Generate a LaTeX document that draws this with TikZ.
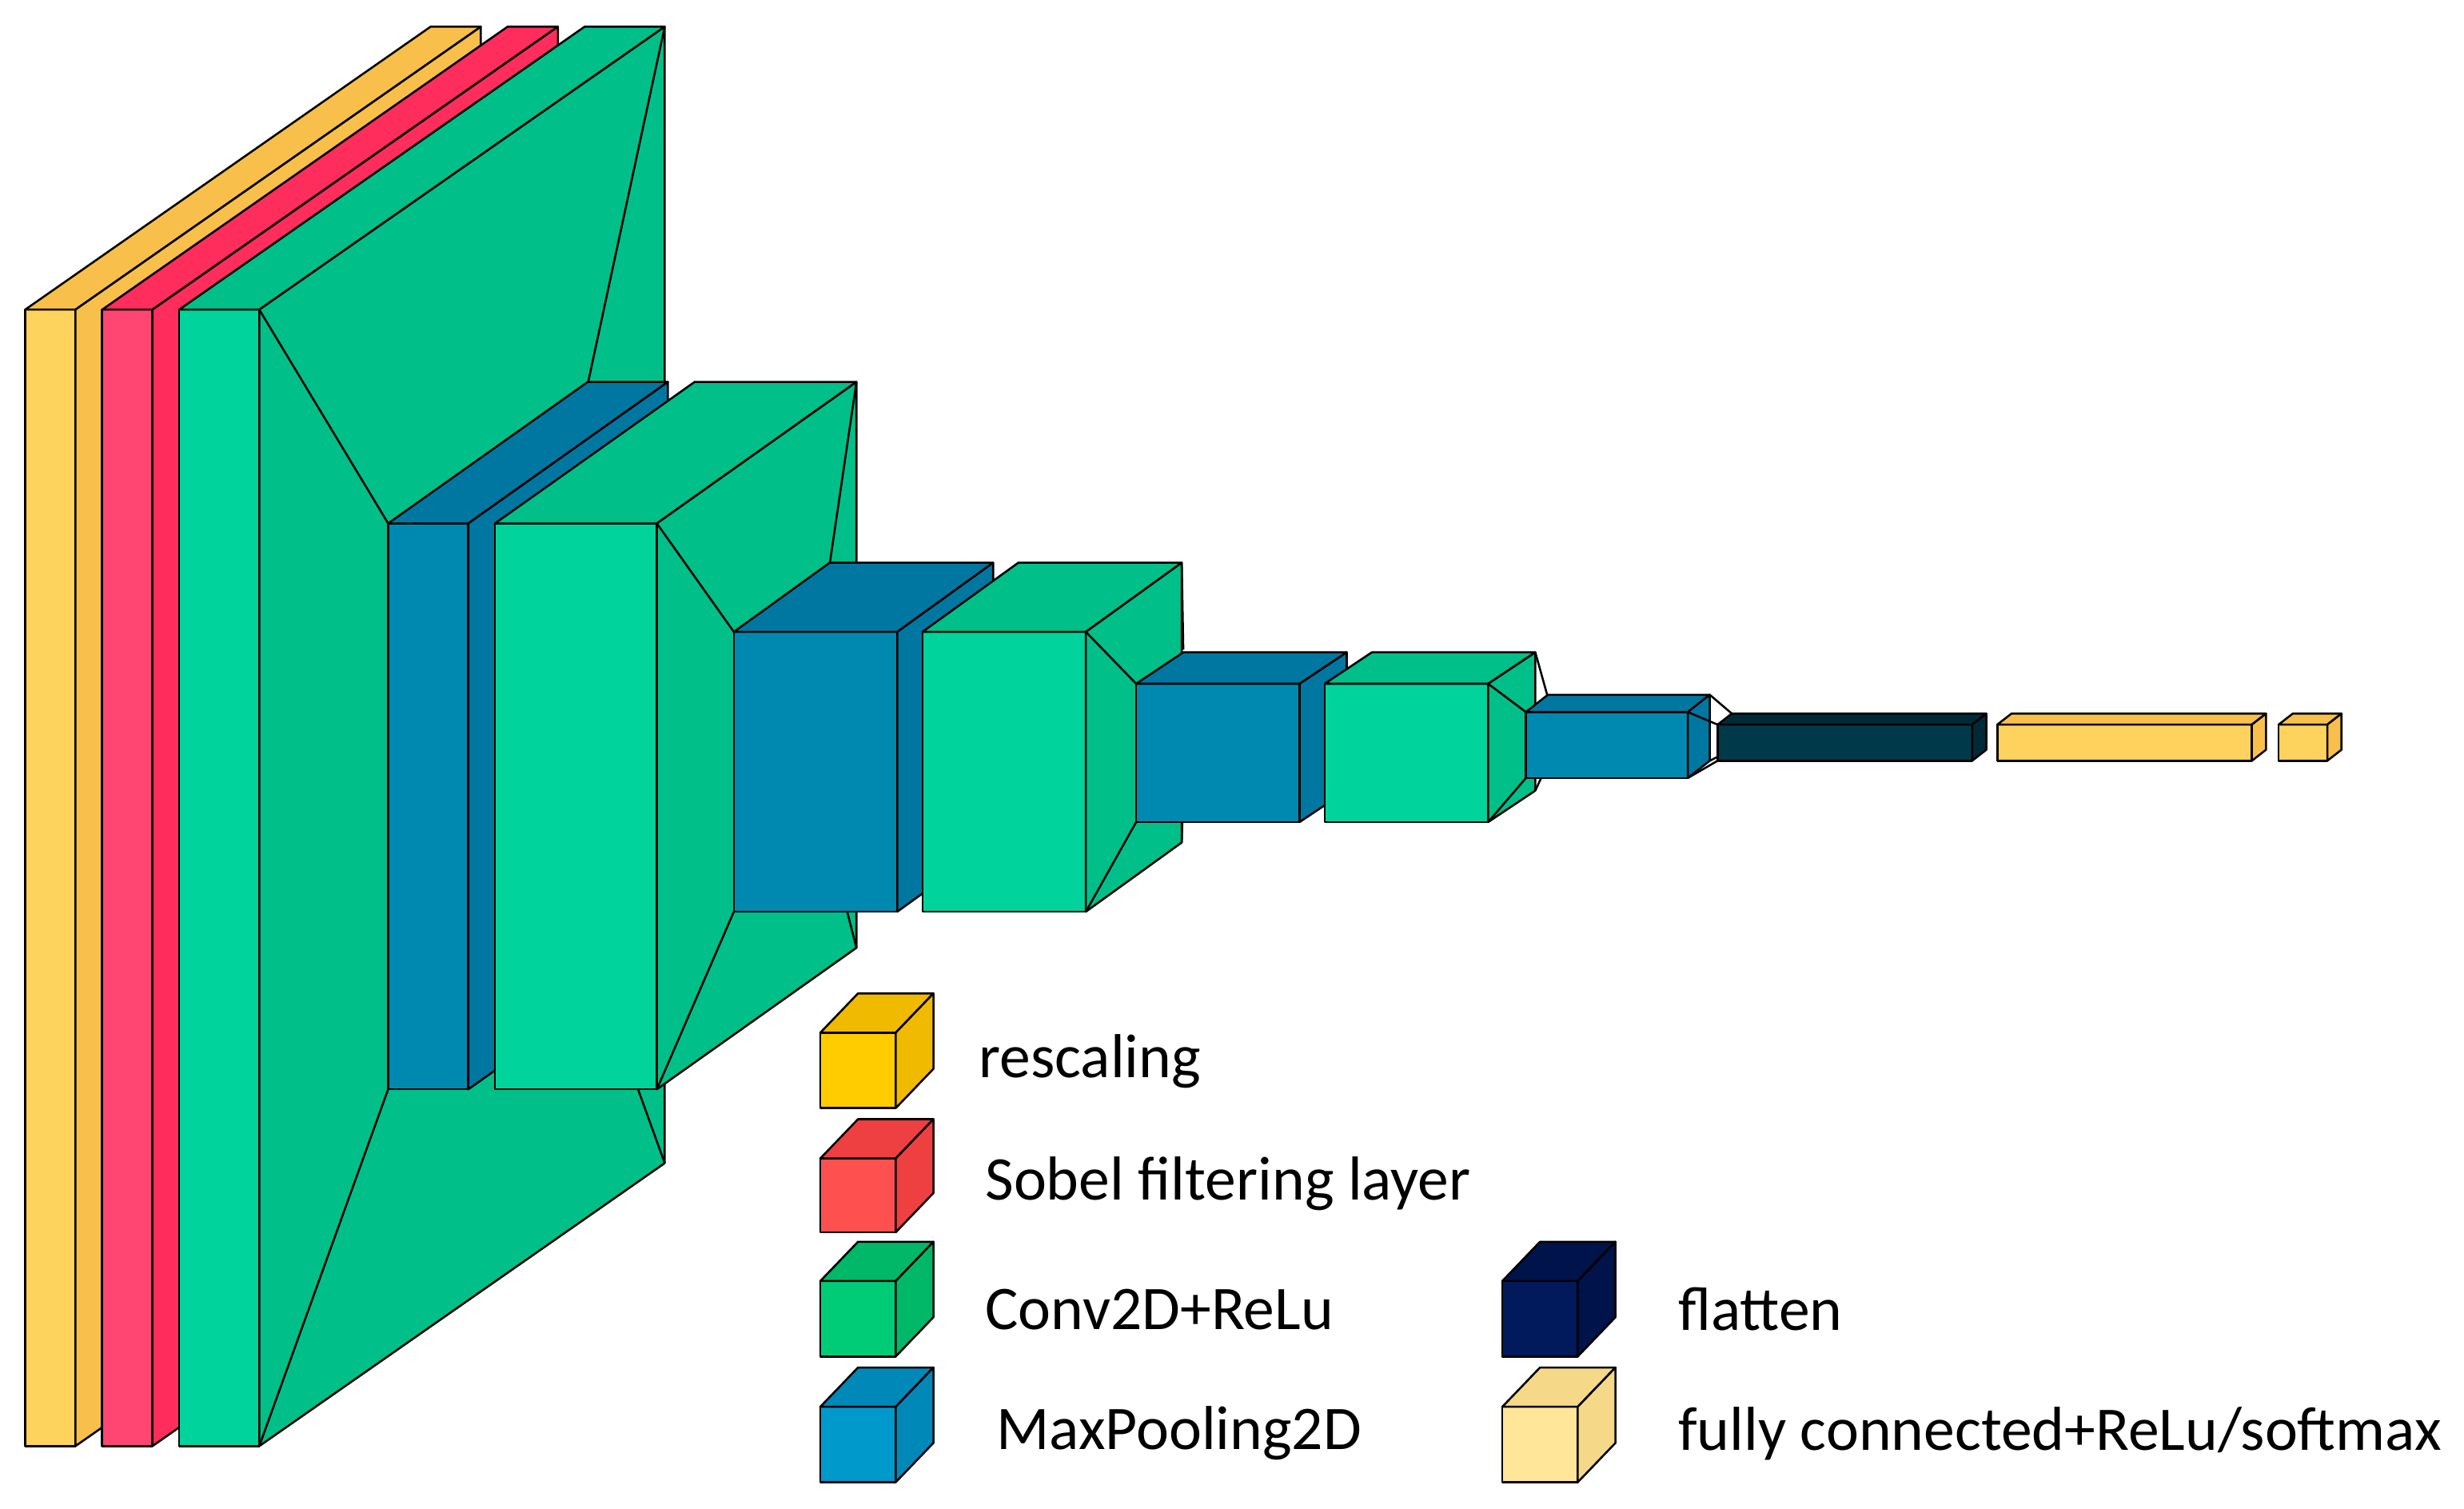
\documentclass[tikz,border=0pt]{standalone}
\usepackage{fontspec}
\setmainfont{Carlito}
\begin{document}
\begin{tikzpicture}[x=1pt,y=-1pt,line width=1.3pt,line join=round,
  lbl/.style={anchor=west,font=\fontsize{39.5}{44}\selectfont}]
\definecolor{yF}{HTML}{FDD35D}\definecolor{yS}{HTML}{F8C04A}
\definecolor{rF}{HTML}{FF4673}\definecolor{rS}{HTML}{FF2D5C}
\definecolor{gF}{HTML}{00D49C}\definecolor{gS}{HTML}{00BF88}
\definecolor{bF}{HTML}{0089B0}\definecolor{bS}{HTML}{0077A0}
\definecolor{dF}{HTML}{003A4A}\definecolor{dS}{HTML}{002A38}
\definecolor{LyF}{HTML}{FFCC00}\definecolor{LyS}{HTML}{F0BA00}
\definecolor{LrF}{HTML}{FF5050}\definecolor{LrS}{HTML}{EE4040}
\definecolor{LgF}{HTML}{00CC77}\definecolor{LgS}{HTML}{00B868}
\definecolor{LbF}{HTML}{0099CC}\definecolor{LbS}{HTML}{0088B8}
\definecolor{LdF}{HTML}{001A5C}\definecolor{LdS}{HTML}{00134A}
\definecolor{LfF}{HTML}{FFE699}\definecolor{LfS}{HTML}{F5D888}
\newcommand\lyr[8]{%
  \filldraw[fill=#7] (#1,#3) rectangle (#2,#4);
  \filldraw[fill=#8] (#1,#3) -- ({#1+#5},{#3+#6}) -- ({#2+#5},{#3+#6}) -- (#2,#3) -- cycle;
  \filldraw[fill=#8] (#2,#3) -- ({#2+#5},{#3+#6}) -- ({#2+#5},{#4+#6}) -- (#2,#4) -- cycle;}
% funnel: P x2,yt,yb,dx,dy ; Q x1,yt,yb,dx
\newcommand\fun[9]{%
  \draw (#1,#2) -- (#6,#7); \draw (#1,#3) -- (#6,#8);
  \draw ({#1+#4},{#2+#5}) -- ({#6+#9},{#7+#5/#4*#9});
  \draw ({#1+#4},{#3+#5}) -- ({#6+#9},{#8+#5/#4*#9});}
\fill[white] (0,0) rectangle (1568,960);
\useasboundingbox (0,0) rectangle (1568,960);
% main stack
\lyr{16}{48}{197}{920}{258}{-180}{yF}{yS}
\lyr{65}{97}{197}{920}{258}{-180}{rF}{rS}
\lyr{114}{165}{197}{920}{258}{-180}{gF}{gS}
\fun{165}{197}{920}{258}{-180}{247}{333}{693}{127}
\lyr{247}{298}{333}{693}{127}{-90}{bF}{bS}
\lyr{315}{418}{333}{693}{127}{-90}{gF}{gS}
\fun{418}{333}{693}{127}{-90}{467}{402}{580}{61}
\lyr{467}{571}{402}{580}{61}{-44}{bF}{bS}
\lyr{587}{691}{402}{580}{61}{-44}{gF}{gS}
\fun{691}{402}{580}{61}{-44}{723}{435}{523}{30}
\lyr{723}{827}{435}{523}{30}{-20}{bF}{bS}
\lyr{843}{947}{435}{523}{30}{-20}{gF}{gS}
\fun{947}{435}{523}{30}{-20}{971}{453}{495}{14}
\lyr{971}{1074}{453}{495}{14}{-11}{bF}{bS}
\fun{1074}{453}{495}{14}{-11}{1093}{461}{484}{9}
\lyr{1093}{1255}{461}{484}{9}{-7}{dF}{dS}
\lyr{1271}{1433}{461}{484}{9}{-7}{yF}{yS}
\lyr{1450}{1481}{461}{484}{9}{-7}{yF}{yS}
% legend
\lyr{522}{570}{657}{705}{24}{-25}{LyF}{LyS}
\lyr{522}{570}{737}{784}{24}{-25}{LrF}{LrS}
\lyr{522}{570}{815}{863}{24}{-25}{LgF}{LgS}
\lyr{522}{570}{895}{943}{24}{-25}{LbF}{LbS}
\lyr{956}{1004}{815}{863}{24}{-25}{LdF}{LdS}
\lyr{956}{1004}{895}{943}{24}{-25}{LfF}{LfS}
\node[lbl] (t1) at (619,675) {rescaling};
\node[lbl] (t2) at (623,753) {Sobel filtering layer};
\node[lbl] (t3) at (623,833) {Conv2D+ReLu};
\node[lbl] (t4) at (630,912) {MaxPooling2D};
\node[lbl] (t5) at (1064,833) {flatten};
\node[lbl] (t6) at (1064,912) {fully connected+ReLu/softmax};
\end{tikzpicture}
\end{document}
